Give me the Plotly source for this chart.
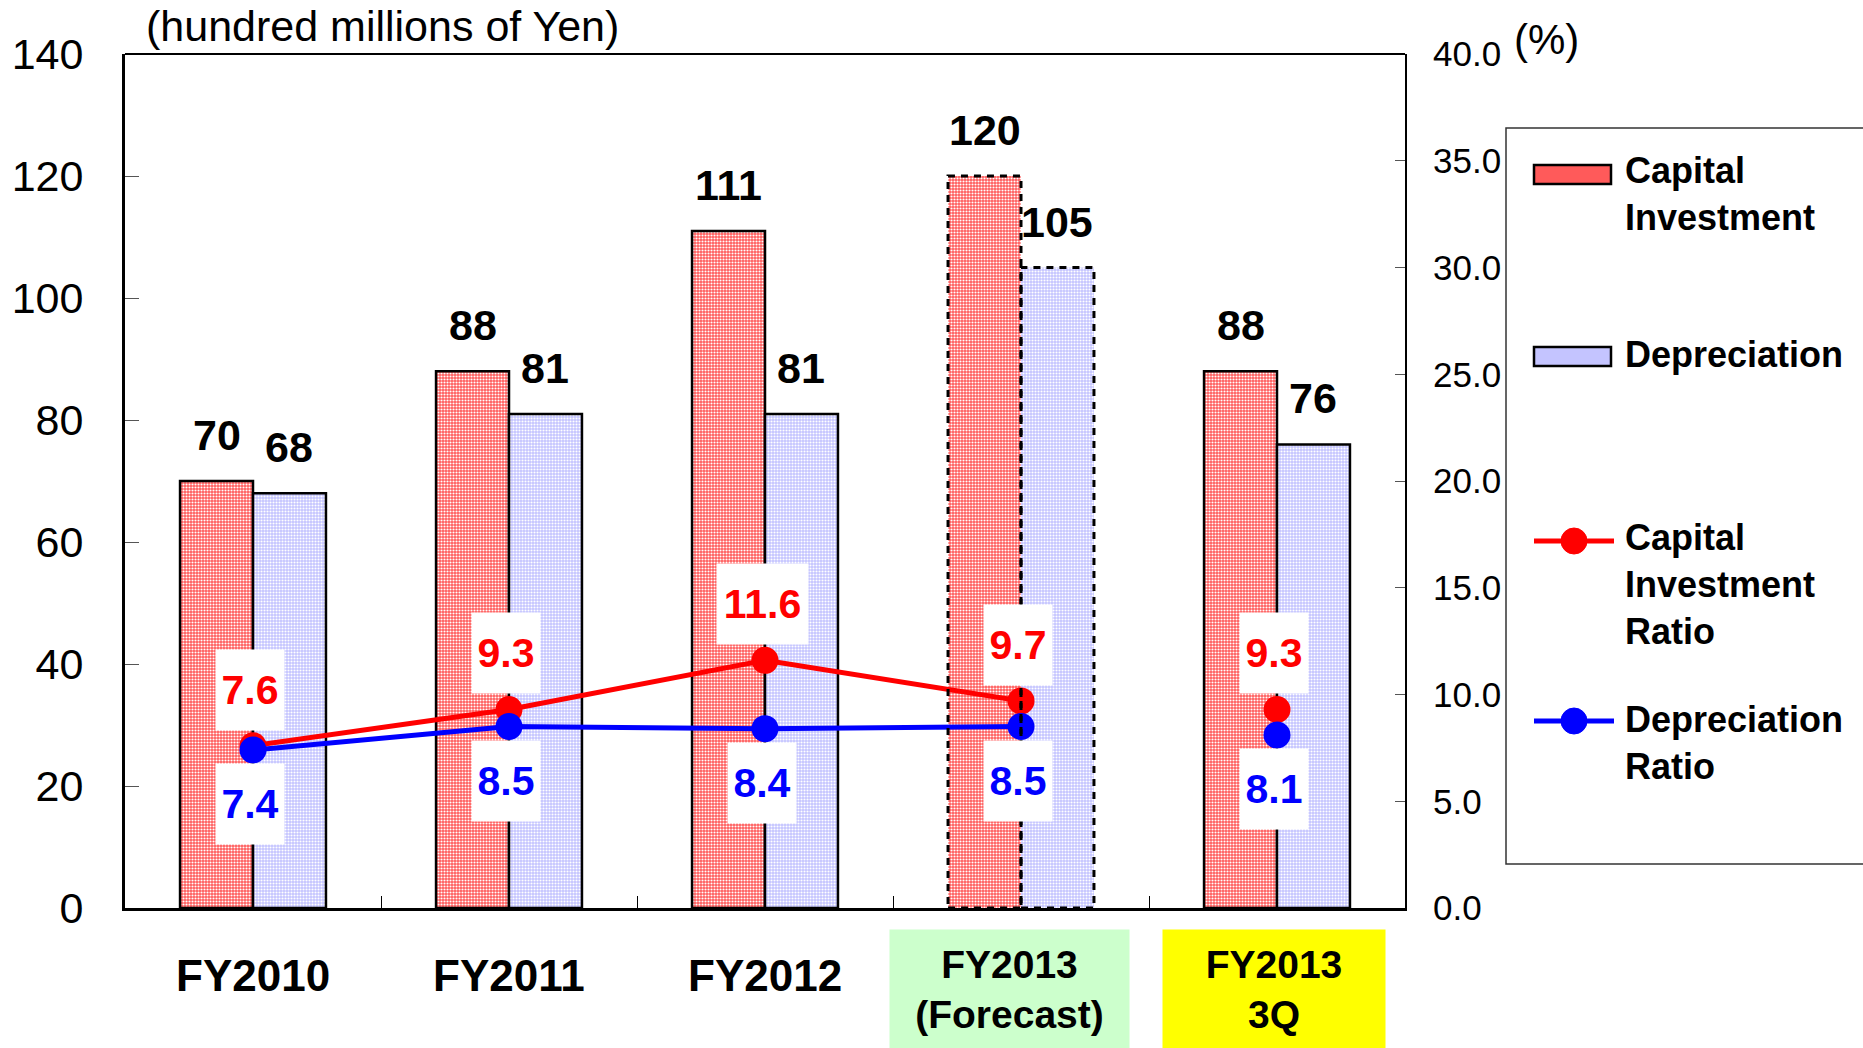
import plotly.graph_objects as go

# ---------------- data ----------------
categories = ["FY2010", "FY2011", "FY2012", "FY2013<br>(Forecast)", "FY2013<br>3Q"]
category_bg = [None, None, None, "#CCFFCC", "#FFFF00"]
capital_investment = [70, 88, 111, 120, 88]
depreciation = [68, 81, 81, 105, 76]
ci_ratio = [7.6, 9.3, 11.6, 9.7, 9.3]
dep_ratio = [7.4, 8.5, 8.4, 8.5, 8.1]
left_ticks = [0, 20, 40, 60, 80, 100, 120, 140]
right_ticks = [0, 5, 10, 15, 20, 25, 30, 35, 40]
right_tick_labels = ["0.0", "5.0", "10.0", "15.0", "20.0", "25.0", "30.0", "35.0", "40.0"]
forecast_index = 3          # bars drawn with dashed outline
line_points = 4             # ratio lines connect FY2010 .. FY2013 forecast

# ---------------- geometry helpers ----------------
W, H = 1863, 1048
ML, MR, MT, MB = 125, 458, 54, 140
PW, PH = W - ML - MR, H - MT - MB
FONT = "Arial, Liberation Sans, sans-serif"


def pxx(x):
    return (x - ML) / PW


def pxy(y):
    return (H - MB - y) / PH


idx = list(range(len(categories)))
BARGAP = 0.43
bw = (1 - BARGAP) / 2      # width of one bar in category units

RED_FILL = "#FF5A5A"
BLUE_FILL = "#C4C4FF"

line_w = [0 if i == forecast_index else 2.5 for i in idx]

fig = go.Figure()
fig.add_trace(go.Bar(
    x=idx, y=capital_investment, name="Capital Investment",
    marker=dict(color=RED_FILL,
                pattern=dict(shape=".", fillmode="replace", bgcolor=RED_FILL,
                             fgcolor="white", size=3, solidity=0.4),
                line=dict(color="black", width=line_w)),
    hoverinfo="skip"))
fig.add_trace(go.Bar(
    x=idx, y=depreciation, name="Depreciation",
    marker=dict(color=BLUE_FILL,
                pattern=dict(shape=".", fillmode="replace", bgcolor=BLUE_FILL,
                             fgcolor="white", size=3, solidity=0.4),
                line=dict(color="black", width=line_w)),
    hoverinfo="skip"))

# ratio lines (secondary axis)
fig.add_trace(go.Scatter(
    x=idx[:line_points], y=ci_ratio[:line_points], yaxis="y2", mode="lines+markers",
    line=dict(color="#FF0000", width=5), marker=dict(color="#FF0000", size=27),
    name="Capital Investment Ratio", hoverinfo="skip"))
fig.add_trace(go.Scatter(
    x=idx[line_points:], y=ci_ratio[line_points:], yaxis="y2", mode="markers",
    marker=dict(color="#FF0000", size=27), showlegend=False, hoverinfo="skip"))
fig.add_trace(go.Scatter(
    x=idx[:line_points], y=dep_ratio[:line_points], yaxis="y2", mode="lines+markers",
    line=dict(color="#0000FF", width=5), marker=dict(color="#0000FF", size=27),
    name="Depreciation Ratio", hoverinfo="skip"))
fig.add_trace(go.Scatter(
    x=idx[line_points:], y=dep_ratio[line_points:], yaxis="y2", mode="markers",
    marker=dict(color="#0000FF", size=27), showlegend=False, hoverinfo="skip"))

annotations = []
shapes = []

# dashed outline for forecast bars
shapes.append(dict(type="rect", xref="x", yref="y",
                   x0=forecast_index - bw, x1=forecast_index,
                   y0=0, y1=capital_investment[forecast_index],
                   line=dict(color="black", width=3, dash="7px,6px"), layer="above"))
shapes.append(dict(type="rect", xref="x", yref="y",
                   x0=forecast_index, x1=forecast_index + bw,
                   y0=0, y1=depreciation[forecast_index],
                   line=dict(color="black", width=3, dash="7px,6px"), layer="above"))

# top border of the plot frame
shapes.append(dict(type="line", xref="paper", yref="paper", x0=0, x1=1, y0=1, y1=1,
                   line=dict(color="black", width=2)))

# bar value labels
for i in idx:
    annotations.append(dict(x=i - bw / 2, y=capital_investment[i], xref="x", yref="y",
                            text=str(capital_investment[i]), showarrow=False,
                            yshift=46, yanchor="middle",
                            font=dict(family=FONT, size=43, color="black", weight="bold")))
    annotations.append(dict(x=i + bw / 2, y=depreciation[i], xref="x", yref="y",
                            text=str(depreciation[i]), showarrow=False,
                            yshift=46, yanchor="middle",
                            font=dict(family=FONT, size=43, color="black", weight="bold")))

# ratio labels in white boxes
for i in idx:
    for vals, col, shift in [(ci_ratio, "#FF0000", 56), (dep_ratio, "#0000FF", -54)]:
        txt = f"{vals[i]:.1f}"
        annotations.append(dict(x=i, y=vals[i], xref="x", yref="y2", text=txt,
                                showarrow=False, xshift=-3, yshift=shift,
                                xanchor="center", yanchor="middle",
                                bgcolor="white", borderpad=0,
                                width=68 if len(txt) <= 3 else 91, height=80,
                                font=dict(family=FONT, size=41, color=col, weight="bold")))

# category labels
for i in idx:
    if category_bg[i] is None:
        annotations.append(dict(x=i, y=pxy(975), xref="x", yref="paper",
                                text=categories[i], showarrow=False, yanchor="middle",
                                font=dict(family=FONT, size=44, color="black", weight="bold")))
    else:
        annotations.append(dict(x=i, y=pxy(929), xref="x", yref="paper",
                                text=categories[i], showarrow=False, yanchor="top",
                                xshift=-12 if i == forecast_index else -3,
                                bgcolor=category_bg[i], borderpad=0,
                                width=239 if i == forecast_index else 222, height=119,
                                font=dict(family=FONT, size=39, color="black", weight="bold")))

# unit labels
annotations.append(dict(x=pxx(144), y=pxy(26), xref="paper", yref="paper", xanchor="left",
                        yanchor="middle", showarrow=False, text="(hundred millions of Yen)",
                        font=dict(family=FONT, size=43, color="black")))
annotations.append(dict(x=pxx(1546), y=pxy(40), xref="paper", yref="paper", xanchor="center",
                        yanchor="middle", showarrow=False, text="(%)",
                        font=dict(family=FONT, size=42, color="black")))

# ---------------- manual legend ----------------
shapes.append(dict(type="rect", xref="paper", yref="paper",
                   x0=pxx(1506), x1=pxx(1890), y0=pxy(864), y1=pxy(128),
                   line=dict(color="#333333", width=1.5), fillcolor="rgba(0,0,0,0)"))
for (y0, y1, col) in [(165, 184, RED_FILL), (347, 366, BLUE_FILL)]:
    shapes.append(dict(type="rect", xref="paper", yref="paper",
                       x0=pxx(1534), x1=pxx(1611), y0=pxy(y1), y1=pxy(y0),
                       line=dict(color="black", width=2.5), fillcolor=col))
for (yc, col) in [(541, "#FF0000"), (721, "#0000FF")]:
    shapes.append(dict(type="line", xref="paper", yref="paper",
                       x0=pxx(1534), x1=pxx(1614), y0=pxy(yc), y1=pxy(yc),
                       line=dict(color=col, width=5)))
    shapes.append(dict(type="circle", xref="paper", yref="paper",
                       x0=pxx(1561), x1=pxx(1587), y0=pxy(yc + 13), y1=pxy(yc - 13),
                       line=dict(color=col, width=1), fillcolor=col))
for (yc, txt) in [(194, "Capital<br>Investment"), (355, "Depreciation"),
                  (584, "Capital<br>Investment<br>Ratio"), (743, "Depreciation<br>Ratio")]:
    annotations.append(dict(x=pxx(1623), y=pxy(yc), xref="paper", yref="paper",
                            xanchor="left", yanchor="middle", align="left",
                            showarrow=False, text=txt,
                            font=dict(family=FONT, size=36, color="black", weight="bold")))

fig.update_layout(
    width=W, height=H, autosize=False,
    margin=dict(l=ML, r=MR, t=MT, b=MB, pad=0),
    paper_bgcolor="white", plot_bgcolor="white",
    barmode="group", bargap=BARGAP, bargroupgap=0,
    showlegend=False,
    xaxis=dict(range=[-0.5, len(categories) - 0.5], tickvals=[i + 0.5 for i in idx[:-1]],
               showticklabels=False, ticks="inside", ticklen=12, tickwidth=1,
               tickcolor="black", showline=True, linewidth=3, linecolor="black",
               showgrid=False, zeroline=False, fixedrange=True),
    yaxis=dict(range=[0, 140], tickvals=left_ticks, ticks="inside", ticklen=14,
               tickwidth=1, tickcolor="#555555", showline=True, linewidth=3,
               linecolor="black", showgrid=False, zeroline=False,
               tickfont=dict(family=FONT, size=43, color="black"),
               ticklabelstandoff=30, fixedrange=True),
    yaxis2=dict(range=[0, 40], overlaying="y", side="right", tickvals=right_ticks,
                ticktext=right_tick_labels, ticks="inside", ticklen=10, tickwidth=1,
                tickcolor="#555555", showline=True, linewidth=2, linecolor="black",
                showgrid=False, zeroline=False,
                tickfont=dict(family=FONT, size=35, color="black"),
                ticklabelstandoff=19, fixedrange=True),
    annotations=annotations,
    shapes=shapes,
)

fig.write_html("out.html", config=dict(displayModeBar=False),
               post_script="document.body.style.margin='0';document.body.style.overflow='hidden';")
